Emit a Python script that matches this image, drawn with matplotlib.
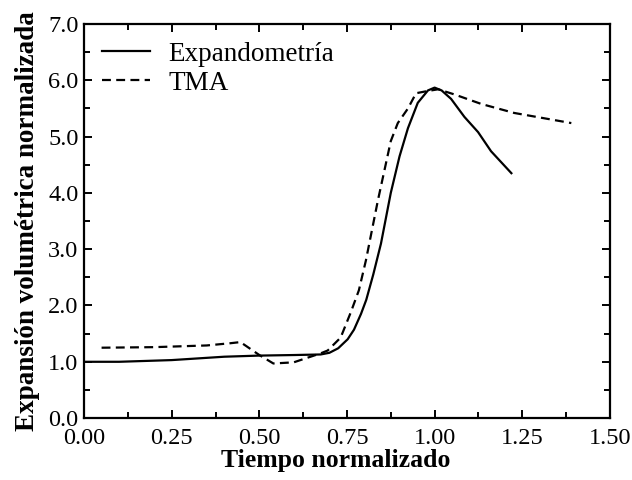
import matplotlib
matplotlib.use("Agg")
import matplotlib.pyplot as plt
from matplotlib.ticker import MultipleLocator, FormatStrFormatter

plt.rcParams['font.family'] = ['Liberation Serif', 'DejaVu Serif']

# Expandometría curve
exp_t = [0.00, 0.10, 0.25, 0.40, 0.50, 0.60, 0.675, 0.70, 0.725, 0.752, 0.77,
         0.79, 0.805, 0.825, 0.847, 0.875, 0.90, 0.924, 0.952, 0.981, 1.00, 1.02,
         1.047, 1.085, 1.124, 1.161, 1.219]
exp_v = [1.00, 1.00, 1.03, 1.09, 1.11, 1.12, 1.13, 1.16, 1.24, 1.40, 1.57,
         1.85, 2.10, 2.55, 3.10, 4.00, 4.65, 5.15, 5.60, 5.82, 5.87, 5.82,
         5.67, 5.35, 5.08, 4.74, 4.35]

# TMA curve
tma_t = [0.05, 0.20, 0.35, 0.418, 0.446, 0.50, 0.54, 0.598, 0.675, 0.695,
         0.732, 0.761, 0.784, 0.804, 0.838, 0.875, 0.895, 0.924, 0.947,
         0.98, 1.01, 1.056, 1.133, 1.227, 1.39]
tma_v = [1.25, 1.26, 1.29, 1.33, 1.35, 1.12, 0.97, 0.99, 1.15, 1.20,
         1.43, 1.88, 2.27, 2.80, 3.86, 4.92, 5.24, 5.50, 5.77,
         5.81, 5.84, 5.75, 5.58, 5.42, 5.24]

fig = plt.figure(figsize=(6.32, 4.8), dpi=100)
ax = fig.add_axes([0.133, 0.129, 0.832, 0.821])

ax.plot(exp_t, exp_v, color='black', lw=1.6, label='Expandometría')
ax.plot(tma_t, tma_v, color='black', lw=1.6, dashes=(4.0, 2.4), label='TMA')

ax.set_xlim(0, 1.5)
ax.set_ylim(0, 7)
ax.xaxis.set_major_locator(MultipleLocator(0.25))
ax.xaxis.set_minor_locator(MultipleLocator(0.125))
ax.yaxis.set_major_locator(MultipleLocator(1.0))
ax.yaxis.set_minor_locator(MultipleLocator(0.5))
ax.xaxis.set_major_formatter(FormatStrFormatter('%.2f'))
ax.yaxis.set_major_formatter(FormatStrFormatter('%.1f'))

for s in ax.spines.values():
    s.set_linewidth(1.6)
ax.tick_params(which='both', direction='in', top=True, right=True, width=1.4)
ax.tick_params(which='major', length=6, labelsize=17.5)
ax.tick_params(which='minor', length=4)
ax.tick_params(axis='x', which='major', pad=7)
ax.tick_params(axis='y', which='major', pad=4)

ax.set_xlabel('Tiempo normalizado', fontsize=18.5, fontweight='bold')
ax.xaxis.set_label_coords(0.479, -0.078, transform=ax.transAxes)
ax.xaxis.label.set_va('top')
ax.set_ylabel('Expansión volumétrica normalizada', fontsize=19.5,
              fontweight='bold', labelpad=6)

leg = ax.legend(loc='upper left', frameon=False, fontsize=19.5, handlelength=1.8,
                handletextpad=0.65, labelspacing=0.15, borderaxespad=0.25,
                bbox_to_anchor=(0.0, 1.0))

fig.savefig('out.png', dpi=100)
